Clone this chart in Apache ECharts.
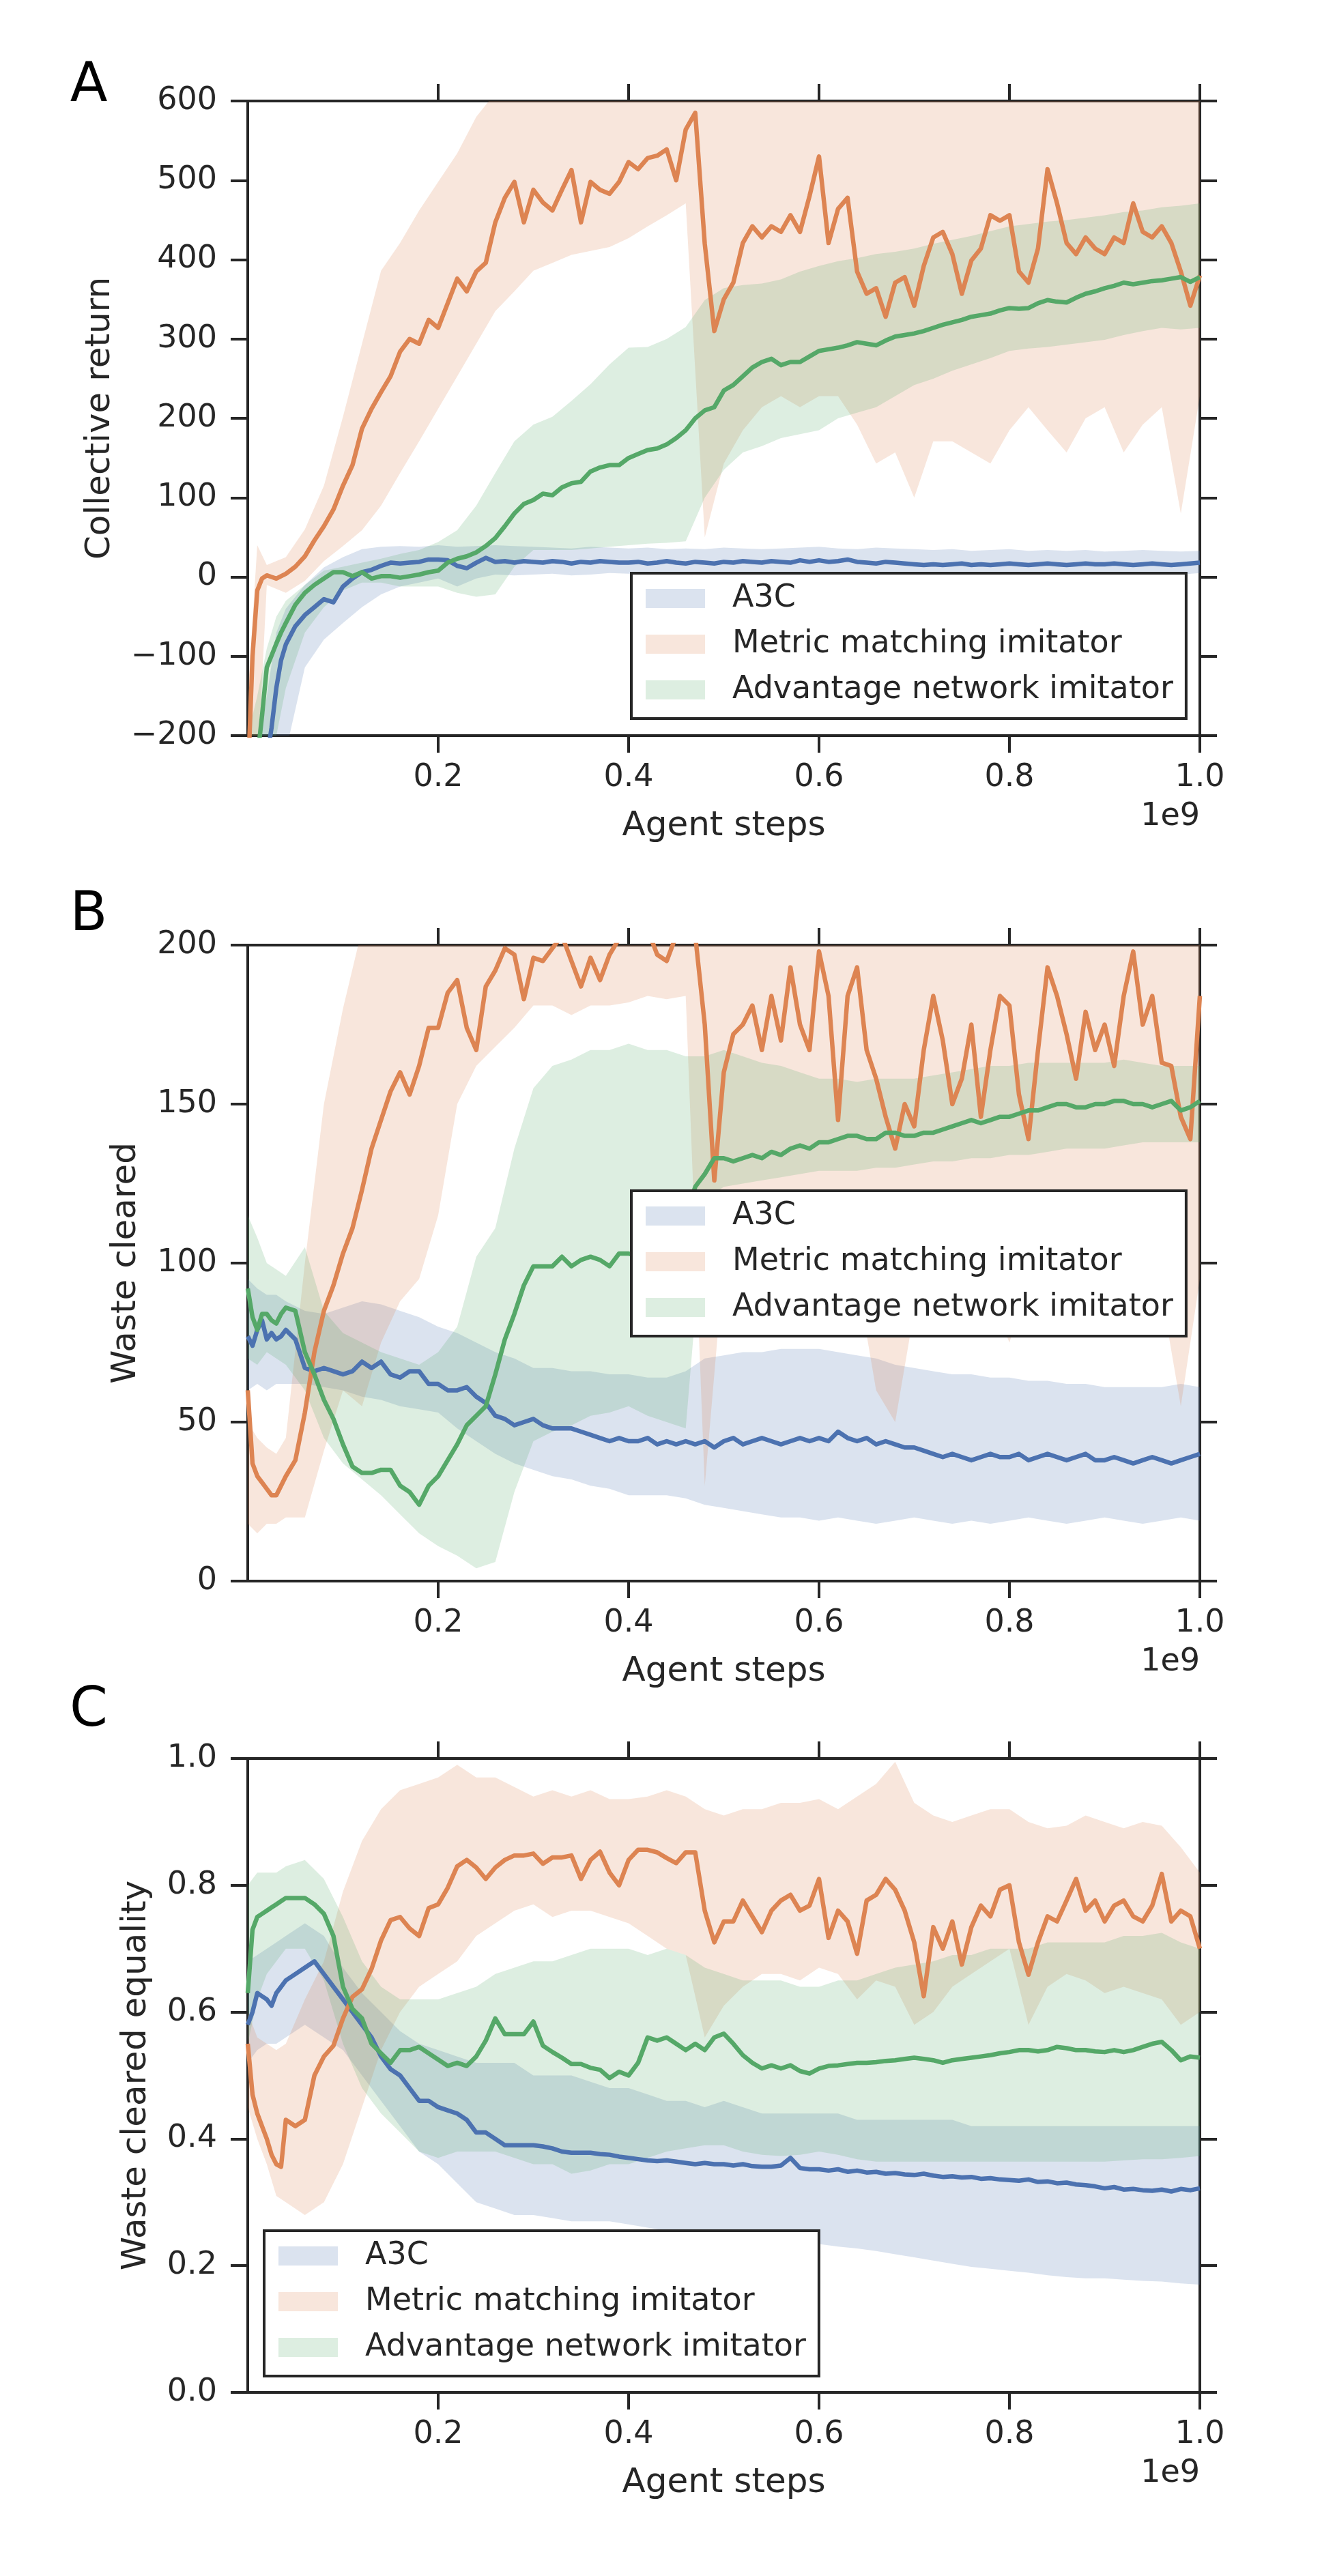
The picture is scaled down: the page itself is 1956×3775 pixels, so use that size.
<!DOCTYPE html>
<html>
<head>
<meta charset="utf-8">
<title>Collective return / waste cleared / waste cleared equality</title>
<script src="https://cdn.jsdelivr.net/npm/echarts@6/dist/echarts.min.js"></script>
<style>
  html, body { margin: 0; padding: 0; background: #fff; }
  #chart { width: 1956px; height: 3775px; }
</style>
</head>
<body>
<div id="chart"></div>
<script>
// sample positions (agent steps, 1e9) for the mean curves
const X_MEAN = [0, 0.005, 0.01, 0.015, 0.02, 0.025, 0.03, 0.035,
  0.04, 0.05, 0.06, 0.07, 0.08, 0.09,
  0.10, 0.11, 0.12, 0.13, 0.14, 0.15, 0.16, 0.17, 0.18, 0.19,
  0.20, 0.21, 0.22, 0.23, 0.24, 0.25, 0.26, 0.27, 0.28, 0.29,
  0.30, 0.31, 0.32, 0.33, 0.34, 0.35, 0.36, 0.37, 0.38, 0.39,
  0.40, 0.41, 0.42, 0.43, 0.44, 0.45, 0.46, 0.47, 0.48, 0.49,
  0.50, 0.51, 0.52, 0.53, 0.54, 0.55, 0.56, 0.57, 0.58, 0.59,
  0.60, 0.61, 0.62, 0.63, 0.64, 0.65, 0.66, 0.67, 0.68, 0.69,
  0.70, 0.71, 0.72, 0.73, 0.74, 0.75, 0.76, 0.77, 0.78, 0.79,
  0.80, 0.81, 0.82, 0.83, 0.84, 0.85, 0.86, 0.87, 0.88, 0.89,
  0.90, 0.91, 0.92, 0.93, 0.94, 0.95, 0.96, 0.97, 0.98, 0.99, 1.00]

// sample positions for the shaded bands
const X_BAND = [0, 0.01, 0.02, 0.03, 0.04,
  0.06, 0.08, 0.10, 0.12, 0.14, 0.16, 0.18, 0.20, 0.22, 0.24,
  0.26, 0.28, 0.30, 0.32, 0.34, 0.36, 0.38, 0.40, 0.42, 0.44,
  0.46, 0.48, 0.50, 0.52, 0.54, 0.56, 0.58, 0.60, 0.62, 0.64,
  0.66, 0.68, 0.70, 0.72, 0.74, 0.76, 0.78, 0.80, 0.82, 0.84,
  0.86, 0.88, 0.90, 0.92, 0.94, 0.96, 0.98, 1.00]

const X_TICKS = [0.2, 0.4, 0.6, 0.8, 1.0]
const SERIES_NAMES = ['A3C', 'Metric matching imitator', 'Advantage network imitator']

// ---- A: collective return ----
const A_A3C = [-260, -255, -250, -245, -230, -190, -140, -105,
  -85, -62, -48, -38, -28, -32,
  -12, -2, 6, 9, 14, 18, 17, 18, 19, 22,
  22, 21, 14, 11, 18, 24, 19, 20, 18, 20,
  19, 18, 20, 19, 17, 19, 18, 20, 19, 18,
  18, 19, 17, 18, 20, 18, 17, 19, 18, 17,
  19, 18, 20, 19, 18, 20, 19, 18, 21, 19,
  21, 19, 20, 22, 19, 18, 17, 19, 18, 17,
  16, 15, 16, 15, 16, 17, 15, 16, 15, 16,
  17, 16, 15, 16, 17, 16, 15, 16, 17, 16,
  16, 17, 16, 15, 16, 17, 16, 15, 16, 17, 18]
const A_MM = [-260, -100, -17, -2, 2, 0, -2, 1,
  4, 13, 26, 46, 64, 85,
  115, 141, 187, 212, 233, 253, 284, 300, 294, 324,
  314, 345, 376, 360, 385, 396, 447, 478, 498, 447,
  488, 472, 462, 488, 513, 447, 498, 488, 483, 498,
  523, 514, 528, 531, 539, 500, 564, 585, 420, 310,
  350, 371, 421, 442, 428, 442, 435, 456, 435, 480,
  530, 421, 464, 478, 385, 357, 364, 328, 371, 378,
  342, 392, 428, 435, 407, 357, 399, 414, 456, 449,
  456, 385, 371, 414, 514, 471, 421, 407, 428, 414,
  407, 428, 421, 471, 435, 428, 442, 421, 385, 342, 380]
const A_ADV = [-260, -250, -230, -175, -114, -99, -84, -70,
  -58, -35, -20, -10, -2, 6,
  6, 1, 6, -2, 1, 1, -1, 1, 3, 6,
  8, 18, 23, 26, 31, 39, 49, 64, 80, 92,
  97, 105, 103, 113, 118, 120, 133, 138, 141, 141,
  150, 155, 160, 162, 167, 175, 185, 200, 210, 214,
  235, 242, 253, 264, 271, 275, 267, 271, 271, 278,
  285, 287, 289, 292, 296, 294, 292, 298, 303, 305,
  307, 310, 314, 318, 321, 324, 328, 330, 332, 336,
  339, 338, 339, 345, 349, 347, 346, 352, 357, 360,
  364, 367, 371, 369, 371, 373, 374, 376, 378, 372, 378]

const A_A3C_LO = [-300, -300, -300, -280, -220,
  -114, -79, -58, -38, -22, -12, -7, -2, -12, -2,
  3, 2, 3, 4, 2, 3, 5, 4, 3, 5,
  4, 3, 5, 4, 3, 5, 2, 4, 3, 5,
  4, 3, 2, 4, 5, 3, 4, 2, 3, 4,
  3, 5, 4, 3, 2, 4, 3, 5]
const A_A3C_HI = [-250, -230, -150, -70, -40,
  -10, 12, 25, 35, 38, 39, 38, 40, 38, 39,
  40, 39, 38, 37, 36, 38, 37, 36, 37, 35,
  36, 35, 37, 36, 35, 36, 37, 38, 36, 35,
  37, 36, 35, 34, 35, 33, 34, 35, 33, 34,
  33, 34, 32, 33, 34, 33, 32, 33]
const A_MM_LO = [-300, -250, -10, -15, -20,
  -5, 20, 39, 59, 90, 131, 171, 212, 253, 294,
  335, 360, 386, 396, 406, 411, 416, 427, 442, 456,
  471, 50, 143, 185, 214, 228, 214, 228, 228, 192,
  143, 157, 100, 171, 171, 157, 143, 185, 214, 185,
  157, 200, 214, 157, 192, 214, 80, 228]
const A_MM_HI = [-150, 40, 15, 20, 25,
  60, 115, 202, 294, 386, 421, 462, 498, 534, 580,
  610, 610, 610, 610, 610, 610, 610, 610, 610, 610,
  610, 610, 610, 610, 610, 610, 610, 610, 610, 610,
  610, 610, 610, 610, 610, 610, 610, 610, 610, 610,
  610, 610, 610, 610, 610, 610, 610, 610]
const A_ADV_LO = [-300, -300, -250, -200, -140,
  -70, -38, -17, -7, -7, -12, -12, -12, -20, -25,
  -22, 13, 34, 34, 34, 36, 38, 40, 42, 43,
  45, 100, 135, 157, 165, 175, 180, 185, 200, 207,
  214, 228, 242, 250, 260, 268, 276, 285, 288, 290,
  293, 296, 299, 305, 310, 314, 312, 314]
const A_ADV_HI = [-200, -150, -90, -50, -30,
  -10, 8, 13, 18, 23, 29, 34, 44, 59, 90,
  131, 171, 192, 202, 222, 243, 268, 289, 290, 300,
  315, 349, 364, 368, 370, 375, 385, 392, 398, 402,
  407, 410, 414, 420, 425, 430, 436, 442, 445, 448,
  450, 453, 456, 460, 462, 466, 468, 471]

// ---- B: waste cleared ----
const B_A3C = [77, 74, 79, 82, 76, 78, 76, 77,
  79, 76, 67, 66, 67, 66,
  65, 66, 69, 67, 69, 65, 64, 66, 66, 62,
  62, 60, 60, 61, 58, 56, 52, 51, 49, 50,
  51, 49, 48, 48, 48, 47, 46, 45, 44, 45,
  44, 44, 45, 43, 44, 43, 44, 43, 44, 42,
  44, 45, 43, 44, 45, 44, 43, 44, 45, 44,
  45, 44, 47, 45, 44, 45, 43, 44, 43, 42,
  42, 41, 40, 39, 40, 39, 38, 39, 40, 39,
  39, 40, 38, 39, 40, 39, 38, 39, 40, 38,
  38, 39, 38, 37, 38, 39, 38, 37, 38, 39, 40]
const B_MM = [60, 37, 33, 31, 29, 27, 27, 30,
  33, 38, 53, 72, 85, 93,
  103, 111, 123, 136, 145, 154, 160, 153, 162, 174,
  174, 185, 189, 174, 167, 187, 192, 199, 197, 183,
  196, 195, 199, 203, 195, 187, 196, 189, 197, 202,
  205, 203, 205, 197, 195, 203, 205, 203, 175, 126,
  160, 172, 175, 181, 167, 184, 170, 193, 175, 167,
  198, 184, 145, 184, 193, 167, 158, 146, 136, 150,
  143, 167, 184, 170, 150, 158, 175, 146, 167, 184,
  181, 153, 139, 167, 193, 184, 172, 158, 179, 167,
  175, 162, 184, 198, 175, 184, 163, 162, 146, 139, 184]
const B_ADV = [92, 83, 79, 84, 84, 82, 81, 84,
  86, 85, 72, 65, 57, 51,
  43, 36, 34, 34, 35, 35, 30, 28, 24, 30,
  33, 38, 43, 49, 52, 55, 65, 76, 84, 93,
  99, 99, 99, 102, 99, 101, 102, 101, 99, 103,
  103, 102, 104, 103, 105, 108, 115, 124, 128, 133,
  133, 132, 133, 134, 133, 135, 134, 136, 137, 136,
  138, 138, 139, 140, 140, 139, 139, 141, 141, 140,
  140, 141, 141, 142, 143, 144, 145, 144, 145, 146,
  146, 147, 148, 148, 149, 150, 150, 149, 149, 150,
  150, 151, 151, 150, 150, 149, 150, 151, 148, 149, 151]

const B_A3C_LO = [60, 62, 60, 62, 62,
  62, 61, 60, 58, 57, 55, 54, 53, 48, 44,
  40, 37, 35, 33, 32, 30, 29, 27, 27, 27,
  26, 24, 23, 22, 21, 20, 20, 19, 20, 19,
  18, 19, 20, 19, 18, 19, 18, 19, 20, 19,
  18, 19, 20, 19, 18, 19, 20, 19]
const B_A3C_HI = [95, 92, 90, 90, 88,
  85, 84, 86, 88, 87, 85, 83, 80, 78, 75,
  72, 70, 67, 67, 66, 66, 65, 65, 64, 64,
  66, 70, 71, 72, 72, 73, 73, 73, 72, 71,
  70, 68, 67, 66, 65, 65, 64, 64, 63, 63,
  62, 62, 61, 61, 61, 61, 62, 61]
const B_MM_LO = [18, 15, 18, 18, 20,
  20, 41, 60, 55, 75, 88, 95, 115, 150, 162,
  168, 174, 181, 181, 178, 181, 181, 182, 184, 183,
  184, 30, 100, 110, 105, 105, 100, 100, 95, 95,
  60, 50, 85, 95, 95, 95, 90, 75, 95, 100,
  100, 95, 95, 95, 90, 90, 55, 95]
const B_MM_HI = [50, 45, 42, 40, 45,
  100, 150, 180, 205, 210, 210, 210, 210, 210, 210,
  210, 210, 210, 210, 210, 210, 210, 210, 210, 210,
  210, 210, 210, 210, 210, 210, 210, 210, 210, 210,
  210, 210, 210, 210, 210, 210, 210, 210, 210, 210,
  210, 210, 210, 210, 210, 210, 210, 210]
const B_ADV_LO = [70, 68, 72, 70, 68,
  60, 45, 37, 32, 27, 21, 15, 11, 8, 4,
  6, 28, 44, 47, 49, 52, 53, 55, 52, 50,
  48, 120, 124, 125, 126, 127, 128, 129, 129, 129,
  130, 130, 131, 132, 132, 133, 133, 134, 134, 135,
  136, 136, 136, 137, 138, 138, 138, 138]
const B_ADV_HI = [115, 108, 100, 98, 96,
  105, 85, 78, 75, 72, 70, 68, 72, 80, 102,
  111, 136, 155, 162, 164, 167, 167, 169, 167, 167,
  165, 165, 167, 165, 163, 162, 160, 158, 158, 157,
  158, 158, 158, 159, 160, 161, 162, 162, 163, 163,
  163, 163, 163, 164, 163, 162, 162, 162]

// ---- C: waste cleared equality ----
const C_A3C = [0.58, 0.60, 0.63, 0.625, 0.62, 0.61, 0.63, 0.64,
  0.65, 0.66, 0.67, 0.68, 0.66, 0.64,
  0.62, 0.60, 0.58, 0.56, 0.53, 0.51, 0.50, 0.48, 0.46, 0.46,
  0.45, 0.445, 0.44, 0.43, 0.41, 0.41, 0.40, 0.39, 0.39, 0.39,
  0.39, 0.388, 0.385, 0.38, 0.378, 0.378, 0.378, 0.376, 0.375, 0.372,
  0.37, 0.368, 0.366, 0.365, 0.366, 0.364, 0.362, 0.36, 0.362, 0.36,
  0.36, 0.358, 0.36, 0.357, 0.356, 0.356, 0.358, 0.37, 0.354, 0.352,
  0.352, 0.35, 0.352, 0.348, 0.35, 0.347, 0.348, 0.345, 0.346, 0.344,
  0.343, 0.345, 0.342, 0.34, 0.341, 0.339, 0.34, 0.337, 0.338, 0.336,
  0.335, 0.334, 0.336, 0.332, 0.333, 0.33, 0.331, 0.328, 0.327, 0.325,
  0.322, 0.324, 0.32, 0.321, 0.319, 0.318, 0.32, 0.317, 0.321, 0.319, 0.322]
const C_MM = [0.55, 0.47, 0.44, 0.42, 0.40, 0.375, 0.36, 0.356,
  0.43, 0.42, 0.43, 0.50, 0.53, 0.547,
  0.59, 0.624, 0.636, 0.668, 0.713, 0.745, 0.75, 0.732, 0.72, 0.764,
  0.77, 0.796, 0.83, 0.84, 0.828, 0.81, 0.828, 0.84, 0.847, 0.847,
  0.85, 0.834, 0.844, 0.844, 0.847, 0.81, 0.84, 0.853, 0.82, 0.80,
  0.84, 0.856, 0.856, 0.852, 0.843, 0.835, 0.852, 0.852, 0.76, 0.71,
  0.743, 0.743, 0.776, 0.751, 0.726, 0.76, 0.776, 0.785, 0.76, 0.768,
  0.81, 0.717, 0.76, 0.743, 0.692, 0.776, 0.785, 0.81, 0.793, 0.76,
  0.71, 0.625, 0.734, 0.70, 0.743, 0.675, 0.734, 0.768, 0.751, 0.793,
  0.80, 0.71, 0.659, 0.71, 0.751, 0.743, 0.776, 0.81, 0.76, 0.776,
  0.743, 0.768, 0.776, 0.751, 0.743, 0.768, 0.818, 0.743, 0.76, 0.751, 0.70]
const C_ADV = [0.63, 0.73, 0.75, 0.755, 0.76, 0.765, 0.77, 0.775,
  0.78, 0.78, 0.78, 0.77, 0.755, 0.72,
  0.64, 0.605, 0.59, 0.55, 0.535, 0.52, 0.54, 0.54, 0.545, 0.535,
  0.525, 0.515, 0.52, 0.515, 0.53, 0.555, 0.59, 0.565, 0.565, 0.565,
  0.585, 0.547, 0.537, 0.528, 0.518, 0.518, 0.512, 0.509, 0.496, 0.506,
  0.50, 0.52, 0.56, 0.555, 0.56, 0.55, 0.54, 0.55, 0.54, 0.56,
  0.566, 0.55, 0.532, 0.52, 0.511, 0.516, 0.511, 0.516, 0.507, 0.503,
  0.511, 0.515, 0.516, 0.518, 0.52, 0.52, 0.521, 0.523, 0.524, 0.526,
  0.528, 0.526, 0.524, 0.52, 0.524, 0.526, 0.528, 0.53, 0.532, 0.535,
  0.537, 0.54, 0.54, 0.538, 0.54, 0.545, 0.543, 0.54, 0.54, 0.538,
  0.537, 0.54, 0.537, 0.54, 0.545, 0.55, 0.553, 0.54, 0.524, 0.53, 0.528]

const C_A3C_LO = [0.52, 0.54, 0.55, 0.55, 0.56,
  0.58, 0.56, 0.54, 0.50, 0.46, 0.42, 0.38, 0.36, 0.33, 0.30,
  0.29, 0.28, 0.28, 0.275, 0.27, 0.27, 0.27, 0.265, 0.26, 0.255,
  0.255, 0.25, 0.25, 0.245, 0.24, 0.24, 0.235, 0.234, 0.23, 0.227,
  0.223, 0.218, 0.213, 0.208, 0.203, 0.198, 0.195, 0.192, 0.189, 0.185,
  0.182, 0.18, 0.18, 0.178, 0.176, 0.175, 0.172, 0.17]
const C_A3C_HI = [0.68, 0.69, 0.70, 0.71, 0.72,
  0.74, 0.72, 0.67, 0.63, 0.60, 0.57, 0.55, 0.54, 0.53, 0.52,
  0.52, 0.52, 0.50, 0.50, 0.50, 0.49, 0.48, 0.48, 0.47, 0.46,
  0.46, 0.45, 0.46, 0.45, 0.44, 0.44, 0.44, 0.44, 0.44, 0.43,
  0.43, 0.43, 0.43, 0.43, 0.43, 0.42, 0.42, 0.42, 0.42, 0.42,
  0.42, 0.42, 0.42, 0.42, 0.42, 0.42, 0.42, 0.42]
const C_MM_LO = [0.45, 0.40, 0.36, 0.31, 0.30,
  0.28, 0.30, 0.36, 0.45, 0.54, 0.60, 0.64, 0.66, 0.68, 0.72,
  0.74, 0.76, 0.77, 0.75, 0.76, 0.76, 0.75, 0.74, 0.72, 0.70,
  0.69, 0.56, 0.61, 0.64, 0.66, 0.66, 0.65, 0.67, 0.66, 0.62,
  0.65, 0.64, 0.58, 0.60, 0.64, 0.66, 0.68, 0.70, 0.58, 0.64,
  0.66, 0.65, 0.63, 0.64, 0.63, 0.62, 0.58, 0.60]
const C_MM_HI = [0.60, 0.56, 0.55, 0.54, 0.55,
  0.62, 0.68, 0.79, 0.87, 0.92, 0.95, 0.96, 0.97, 0.99, 0.97,
  0.97, 0.955, 0.94, 0.95, 0.94, 0.95, 0.936, 0.936, 0.94, 0.95,
  0.94, 0.92, 0.91, 0.92, 0.92, 0.93, 0.93, 0.936, 0.92, 0.94,
  0.96, 0.995, 0.93, 0.91, 0.90, 0.91, 0.92, 0.92, 0.90, 0.89,
  0.894, 0.91, 0.90, 0.89, 0.90, 0.894, 0.86, 0.82]
const C_ADV_LO = [0.55, 0.62, 0.66, 0.68, 0.70,
  0.70, 0.65, 0.55, 0.48, 0.44, 0.41, 0.38, 0.37, 0.38, 0.38,
  0.38, 0.37, 0.36, 0.36, 0.345, 0.35, 0.36, 0.36, 0.37, 0.38,
  0.385, 0.39, 0.39, 0.38, 0.375, 0.373, 0.375, 0.38, 0.375, 0.368,
  0.364, 0.364, 0.364, 0.364, 0.364, 0.364, 0.364, 0.364, 0.364, 0.364,
  0.364, 0.364, 0.364, 0.366, 0.368, 0.368, 0.37, 0.373]
const C_ADV_HI = [0.80, 0.82, 0.82, 0.82, 0.83,
  0.84, 0.81, 0.75, 0.68, 0.64, 0.62, 0.62, 0.62, 0.63, 0.64,
  0.66, 0.67, 0.68, 0.68, 0.69, 0.70, 0.70, 0.70, 0.69, 0.70,
  0.69, 0.67, 0.66, 0.65, 0.65, 0.65, 0.64, 0.64, 0.65, 0.65,
  0.66, 0.67, 0.675, 0.68, 0.69, 0.69, 0.70, 0.70, 0.70, 0.71,
  0.71, 0.71, 0.71, 0.72, 0.72, 0.725, 0.71, 0.70]

// seaborn "deep" colours, bands at alpha 0.2 like fill_between
const INK = '#262626'
const COLORS = ['#4C72B0', '#DD8452', '#55A868']
const PALE = ['#dbe3ef', '#f8e6dc', '#ddeee1']
const FONT = '"DejaVu Sans", Verdana, sans-serif'

const minus = (v) => (v < 0 ? '\u2212' + Math.abs(v) : String(v))

// layout of the three panels
const PANELS = [
  {
    letter: 'A', letterY: 127, top: 148, height: 930,
    yMin: -200, yMax: 600, yStep: 100, yFmt: minus,
    yName: 'Collective return', yGap: 191,
    legend: { left: 925, top: 840 },
    means: [A_A3C, A_MM, A_ADV],
    bands: [[A_A3C_LO, A_A3C_HI], [A_MM_LO, A_MM_HI], [A_ADV_LO, A_ADV_HI]],
  },
  {
    letter: 'B', letterY: 1342, top: 1385, height: 932,
    yMin: 0, yMax: 200, yStep: 50, yFmt: (v) => String(v),
    yName: 'Waste cleared', yGap: 153,
    legend: { left: 925, top: 1745 },
    means: [B_A3C, B_MM, B_ADV],
    bands: [[B_A3C_LO, B_A3C_HI], [B_MM_LO, B_MM_HI], [B_ADV_LO, B_ADV_HI]],
  },
  {
    letter: 'C', letterY: 2508, top: 2577, height: 929,
    yMin: 0, yMax: 1, yStep: 0.2, yFmt: (v) => v.toFixed(1),
    yName: 'Waste cleared equality', yGap: 138,
    legend: { left: 387, top: 3269 },
    means: [C_A3C, C_MM, C_ADV],
    bands: [[C_A3C_LO, C_A3C_HI], [C_MM_LO, C_MM_HI], [C_ADV_LO, C_ADV_HI]],
  },
]

const GRID_LEFT = 363
const GRID_WIDTH = 1395

const axisLine = { show: true, onZero: false, lineStyle: { color: INK, width: 4 } }
const tickStyle = { color: INK, width: 4 }

// one polygon per band: lower edge left->right, upper edge right->left
function bandRenderer(lo, hi, color) {
  return function (params, api) {
    if (params.dataIndex !== 0) return null
    const points = []
    for (let j = 0; j < X_BAND.length; j++) points.push(api.coord([X_BAND[j], lo[j]]))
    for (let j = X_BAND.length - 1; j >= 0; j--) points.push(api.coord([X_BAND[j], hi[j]]))
    return {
      type: 'polygon',
      shape: { points },
      style: { fill: color, opacity: 0.2 },
    }
  }
}

const grids = []
const xAxes = []
const yAxes = []
const series = []
const legends = []
const graphics = []

PANELS.forEach((p, i) => {
  grids.push({ left: GRID_LEFT, top: p.top, width: GRID_WIDTH, height: p.height })

  // bottom + top x axes (ticks out on both sides)
  xAxes.push({
    type: 'value', gridIndex: i, position: 'bottom', min: 0, max: 1,
    axisLine,
    axisTick: { show: true, length: 25, customValues: X_TICKS, lineStyle: tickStyle },
    axisLabel: {
      customValues: X_TICKS, margin: 39, fontSize: 46, color: INK, fontFamily: FONT,
      formatter: (v) => v.toFixed(1),
    },
    splitLine: { show: false },
    name: 'Agent steps', nameLocation: 'middle', nameGap: 108,
    nameTextStyle: { fontSize: 50, color: INK, fontFamily: FONT },
  })
  xAxes.push({
    type: 'value', gridIndex: i, position: 'top', min: 0, max: 1,
    axisLine,
    axisTick: { show: true, length: 25, customValues: X_TICKS, lineStyle: tickStyle },
    axisLabel: { show: false },
    splitLine: { show: false },
  })

  // left + right y axes
  yAxes.push({
    type: 'value', gridIndex: i, position: 'left',
    min: p.yMin, max: p.yMax, interval: p.yStep,
    axisLine,
    axisTick: { show: true, length: 25, lineStyle: tickStyle },
    axisLabel: { margin: 45, fontSize: 46, color: INK, fontFamily: FONT, formatter: p.yFmt },
    splitLine: { show: false },
    name: p.yName, nameLocation: 'middle', nameRotate: 90, nameGap: p.yGap,
    nameTextStyle: { fontSize: 50, color: INK, fontFamily: FONT },
  })
  yAxes.push({
    type: 'value', gridIndex: i, position: 'right',
    min: p.yMin, max: p.yMax, interval: p.yStep,
    axisLine,
    axisTick: { show: true, length: 25, lineStyle: tickStyle },
    axisLabel: { show: false },
    splitLine: { show: false },
  })

  // shaded bands (custom series, clipped to the grid)
  p.bands.forEach(([lo, hi], k) => {
    series.push({
      type: 'custom', name: SERIES_NAMES[k], xAxisIndex: 2 * i, yAxisIndex: 2 * i,
      clip: true, silent: true, z: 1,
      itemStyle: { color: COLORS[k] },
      data: X_BAND.map((x, j) => [x, lo[j], hi[j]]),
      encode: { x: 0, y: [1, 2] },
      renderItem: bandRenderer(lo, hi, COLORS[k]),
    })
  })

  // mean curves on top
  p.means.forEach((ys, k) => {
    series.push({
      type: 'line', name: SERIES_NAMES[k] + ' mean', xAxisIndex: 2 * i, yAxisIndex: 2 * i,
      symbol: 'none', silent: true, z: 3,
      lineStyle: { color: COLORS[k], width: 6.5, join: 'round' },
      data: X_MEAN.map((x, j) => [x, ys[j]]),
    })
  })

  legends.push({
    left: p.legend.left, top: p.legend.top, orient: 'vertical', selectedMode: false,
    data: SERIES_NAMES.map((n, k) => ({ name: n, icon: 'rect', itemStyle: { color: PALE[k], borderWidth: 0 } })),
    itemWidth: 87, itemHeight: 28, itemGap: 21,
    padding: [14, 19, 19, 21],
    borderColor: INK, borderWidth: 4, borderRadius: 0, backgroundColor: '#fff',
    formatter: (n) => '{t|' + n + '}',
    textStyle: {
      color: INK, fontSize: 46, fontFamily: FONT,
      rich: { t: { color: INK, fontSize: 46, fontFamily: FONT, lineHeight: 46, padding: [0, 0, 0, 35] } },
    },
  })

  graphics.push({
    type: 'text', x: 130, y: p.letterY,
    style: { text: p.letter, font: '80px ' + FONT, fill: '#000', align: 'center', verticalAlign: 'middle' },
  })
  graphics.push({
    type: 'text', x: GRID_LEFT + GRID_WIDTH, y: p.top + p.height + 119,
    style: { text: '1e9', font: '46px ' + FONT, fill: INK, align: 'right', verticalAlign: 'middle' },
  })
})

const chart = echarts.init(document.getElementById('chart'))
chart.setOption({
  animation: false,
  backgroundColor: '#fff',
  textStyle: { fontFamily: FONT },
  grid: grids,
  xAxis: xAxes,
  yAxis: yAxes,
  legend: legends,
  graphic: graphics,
  series,
})
</script>
</body>
</html>
